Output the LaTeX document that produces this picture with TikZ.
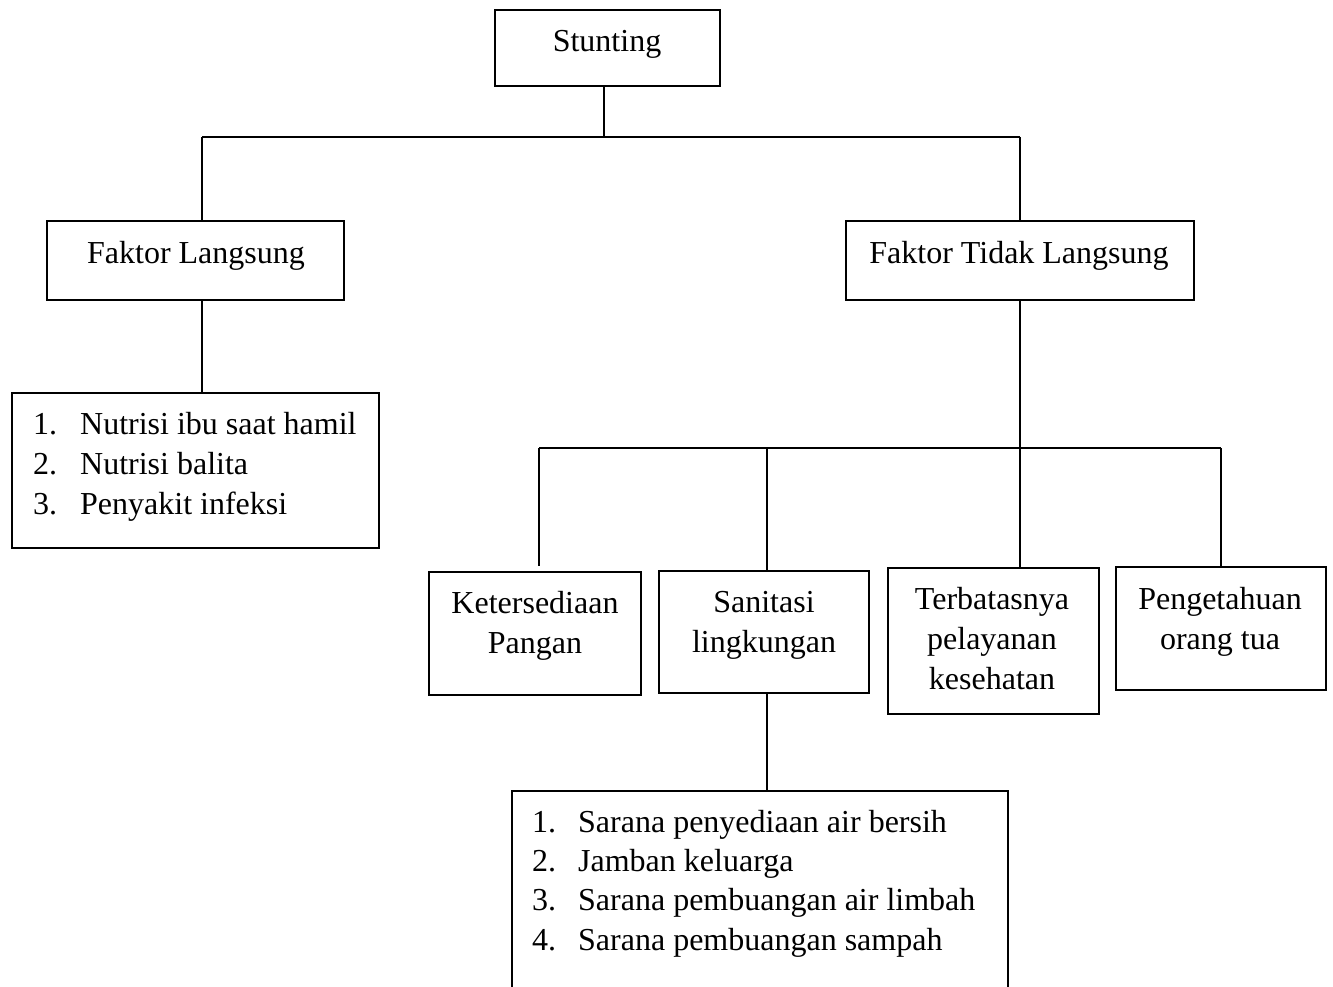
\documentclass[tikz,border=0pt]{standalone}
\usepackage{fontspec}
\setmainfont{Liberation Serif}
\begin{document}
\begin{tikzpicture}[x=1pt,y=-1pt,
  box/.style={draw,line width=1.2pt,inner sep=0pt,minimum width=#1},
  txt/.style={inner sep=0pt,align=center,anchor=base,font=\fontsize{32}{40}\selectfont},
  lst/.style={inner sep=0pt,align=left,anchor=base west,font=\fontsize{32}{40}\selectfont},
  conn/.style={line width=1.2pt}]
\useasboundingbox (0,0) rectangle (1333,987);
\clip (0,0) rectangle (1333,987);
% boxes
\node[box=225pt,minimum height=76pt] (stunt) at (607.5,48) {};
\node[box=297pt,minimum height=79pt] (fl) at (195.5,260.5) {};
\node[box=348pt,minimum height=79pt] (ftl) at (1020,260.5) {};
\node[box=367pt,minimum height=155pt] (l1) at (195.5,470.5) {};
\node[box=212pt,minimum height=123pt] (ket) at (535,633.5) {};
\node[box=210pt,minimum height=122pt] (san) at (764,632) {};
\node[box=211pt,minimum height=146pt] (ter) at (993.5,641) {};
\node[box=210pt,minimum height=123pt] (pen) at (1221,628.5) {};
\node[box=496pt,minimum height=240pt] (l2) at (760,911) {};
% texts (base anchor = baseline of the last line)
\node[txt] (stuntT) at (607,52) {Stunting};
\node[txt] (flT) at (196,263) {Faktor Langsung};
\node[txt] (ftlT) at (1019,263) {Faktor Tidak Langsung};
\node[lst] (l1T) at (33,514) {\makebox[47pt][l]{1.}Nutrisi ibu saat hamil\\\makebox[47pt][l]{2.}Nutrisi balita\\\makebox[47pt][l]{3.}Penyakit infeksi};
\node[txt] (ketT) at (535,653) {Ketersediaan\\Pangan};
\node[txt] (sanT) at (764,652) {Sanitasi\\lingkungan};
\node[txt] (terT) at (992,689) {Terbatasnya\\pelayanan\\kesehatan};
\node[txt] (penT) at (1220,649) {Pengetahuan\\orang tua};
\node[lst,font=\fontsize{32}{39.3}\selectfont] (l2T) at (532,950) {\makebox[46pt][l]{1.}Sarana penyediaan air bersih\\\makebox[46pt][l]{2.}Jamban keluarga\\\makebox[46pt][l]{3.}Sarana pembuangan air limbah\\\makebox[46pt][l]{4.}Sarana pembuangan sampah};
% junctions
\coordinate (j0) at (604,137);
\coordinate (jl) at (202,137);
\coordinate (jr) at (1020,137);
\coordinate (k0) at (1020,448);
\coordinate (k1) at (539,448);
\coordinate (k2) at (767,448);
\coordinate (k4) at (1221,448);
\coordinate (k1e) at (539,566);
% connectors
\draw[conn] (stunt.south -| j0) -- (j0);
\draw[conn] (jl) -- (jr);
\draw[conn] (jl) -- (fl.north -| jl);
\draw[conn] (jr) -- (ftl.north -| jr);
\draw[conn] (fl.south -| jl) -- (l1.north -| jl);
\draw[conn] (ftl.south -| k0) -- (ter.north -| k0);
\draw[conn] (k1) -- (k4);
\draw[conn] (k1) -- (k1e);
\draw[conn] (k2) -- (san.north -| k2);
\draw[conn] (k4) -- (pen.north -| k4);
\draw[conn] (san.south -| k2) -- (l2.north -| k2);
\end{tikzpicture}
\end{document}
